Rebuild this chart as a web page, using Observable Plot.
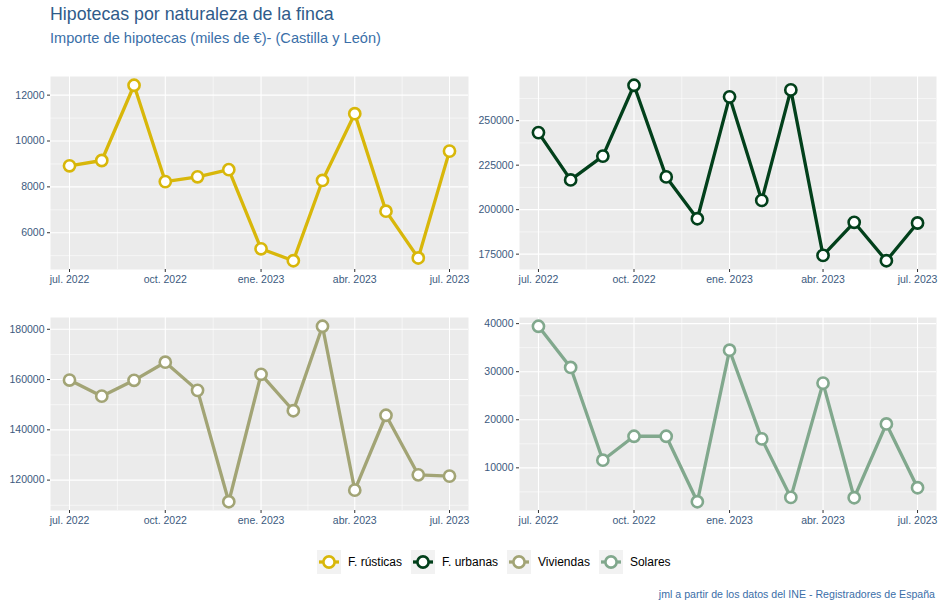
<!DOCTYPE html>
<html><head><meta charset="utf-8">
<script src="https://cdn.jsdelivr.net/npm/d3@7"></script>
<script src="https://cdn.jsdelivr.net/npm/@observablehq/plot@0.6"></script>
<style>
body{margin:0;background:#fff;font-family:"Liberation Sans",Arial,sans-serif;}
#wrap{position:relative;width:944px;height:607px;overflow:hidden;}
.t{position:absolute;line-height:1;white-space:nowrap;}
#title{left:50px;top:5.5px;font-size:17.8px;color:#2f5b8a;}
#subtitle{left:50px;top:30.5px;font-size:14.6px;color:#3a6fa8;}
.panel{position:absolute;}
#legend{position:absolute;left:317px;top:550px;display:flex;align-items:center;font-size:12px;color:#000;}
.item{display:flex;align-items:center;margin-right:9px;}
.item svg{margin-right:7px;display:block;}
#caption{right:9px;top:589px;font-size:10.6px;color:#3a6ea8;}
</style></head>
<body><div id="wrap">
<div id="title" class="t">Hipotecas por naturaleza de la finca</div>
<div id="subtitle" class="t">Importe de hipotecas (miles de €)- (Castilla y León)</div>
<div id="legend"></div>
<div id="caption" class="t">jml a partir de los datos del INE - Registradores de España</div>
</div>
<script>
const fechas = ["2022-07-01","2022-08-01","2022-09-01","2022-10-01","2022-11-01","2022-12-01","2023-01-01","2023-02-01","2023-03-01","2023-04-01","2023-05-01","2023-06-01","2023-07-01"];
const rusticas = [8920,9150,12430,8230,8440,8750,5300,4780,8280,11190,6940,4900,9560];
const urbanas = [243300,216700,230100,269900,218400,194900,263400,205200,267300,174300,192900,171300,192500];
const viviendas = [159800,153400,159700,166900,155700,111400,162100,147600,181200,116000,145800,122100,121600];
const solares = [39450,30880,11590,16570,16570,2950,34470,16020,3850,27630,3780,19130,5860];
const series = ["F. rústicas","F. urbanas","Viviendas","Solares"];
const colores = ["#D8B70A","#02401B","#A2A475","#81A88D"];
const ticksX = ["2022-07-01","2022-10-01","2023-01-01","2023-04-01","2023-07-01"];
const ticksY = [[6000,8000,10000,12000],[175000,200000,225000,250000],[120000,140000,160000,180000],[10000,20000,30000,40000]];
const meses = ["ene.","feb.","mar.","abr.","may.","jun.","jul.","ago.","sep.","oct.","nov.","dic."];

const valores = [rusticas, urbanas, viviendas, solares];
const cajas = [
  {left:0, top:60, w:472, ml:50, mr:4, mt:16},
  {left:470, top:60, w:474, ml:49, mr:8, mt:16},
  {left:0, top:300, w:472, ml:50, mr:4, mt:17},
  {left:470, top:300, w:474, ml:49, mr:8, mt:17}
];

function panel(i){
  const b = cajas[i];
  const vals = valores[i];
  const data = fechas.map((f,j)=>({fecha:new Date(f), valor:vals[j]}));
  const ext = d3.extent(vals); const pad = (ext[1]-ext[0])*0.05;
  const yDom = [ext[0]-pad, ext[1]+pad];
  const t0 = +new Date(fechas[0]), t1 = +new Date(fechas[fechas.length-1]);
  const xp = (t1-t0)*0.05;
  const xDom = [new Date(t0-xp), new Date(t1+xp)];
  const tx = ticksX.map(d=>new Date(d));
  const minorX = d3.pairs(tx,(a,c)=>new Date((+a + +c)/2));
  const ty = ticksY[i]; const step = ty[1]-ty[0];
  const minorY = [ty[0]-step/2, ...d3.pairs(ty,(a,c)=>(a+c)/2), ty[ty.length-1]+step/2].filter(v=>v>=yDom[0]&&v<=yDom[1]);
  const h = 235;
  const mb = h - b.mt - 193;
  const svg = Plot.plot({
    width:b.w, height:h, marginLeft:b.ml, marginRight:b.mr, marginTop:b.mt, marginBottom:mb,
    style:{fontFamily:'"Liberation Sans",Arial,sans-serif', fontSize:"10.5px", background:"transparent", overflow:"visible"},
    x:{type:"utc", domain:xDom, label:null},
    y:{domain:yDom, label:null},
    marks:[
      Plot.frame({fill:"#EBEBEB", stroke:"none"}),
      Plot.gridY(minorY,{stroke:"#fff", strokeOpacity:1, strokeWidth:0.55}),
      Plot.gridX(minorX,{stroke:"#fff", strokeOpacity:1, strokeWidth:0.55}),
      Plot.gridY(ty,{stroke:"#fff", strokeOpacity:1, strokeWidth:1.1}),
      Plot.gridX(tx,{stroke:"#fff", strokeOpacity:1, strokeWidth:1.1}),
      Plot.axisY(ty,{tickSize:3, tickPadding:3, stroke:"#333", fill:"#3b5a7e", tickFormat:d=>String(d), label:null}),
      Plot.axisX(tx,{tickSize:3, tickPadding:3, stroke:"#333", fill:"#3b5a7e", tickFormat:d=>meses[d.getUTCMonth()]+" "+d.getUTCFullYear(), label:null}),
      Plot.line(data,{x:"fecha", y:"valor", stroke:colores[i], strokeWidth:3.3}),
      Plot.dot(data,{x:"fecha", y:"valor", fill:"white", stroke:colores[i], strokeWidth:2.6, r:5.6})
    ]
  });
  const div = document.createElement("div");
  div.className = "panel";
  div.style.left = b.left+"px"; div.style.top = b.top+"px";
  div.appendChild(svg);
  document.getElementById("wrap").appendChild(div);
}
for (let i=0;i<4;i++) panel(i);

const leg = document.getElementById("legend");
series.forEach((s,i)=>{
  const it = document.createElement("div"); it.className="item";
  it.innerHTML = `<svg width="24" height="24"><rect width="24" height="24" fill="#F2F2F2"/><line x1="2" x2="22" y1="12" y2="12" stroke="${colores[i]}" stroke-width="3.3"/><circle cx="12" cy="12" r="5.6" fill="#fff" stroke="${colores[i]}" stroke-width="2.6"/></svg><span>${s}</span>`;
  leg.appendChild(it);
});
</script>
</body></html>
